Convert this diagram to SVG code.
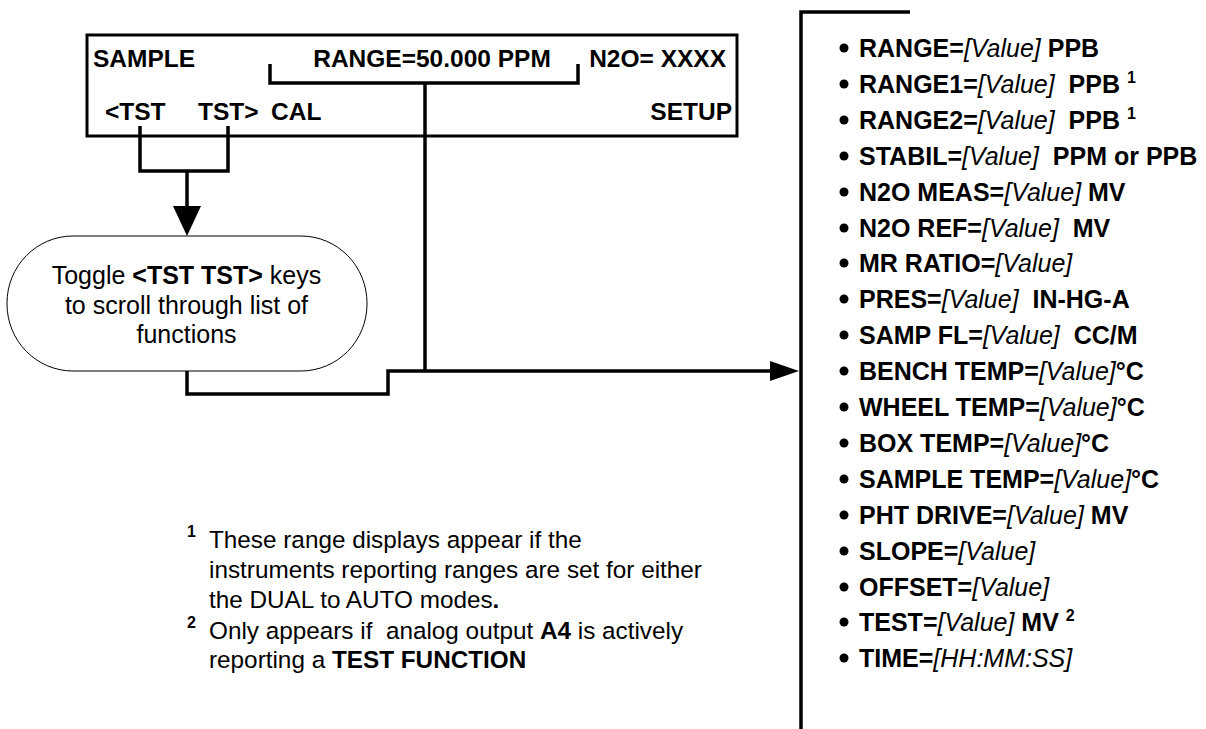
<svg xmlns="http://www.w3.org/2000/svg" width="1206" height="729" viewBox="0 0 1206 729">
<style>
text{font-family:"Liberation Sans",Arial,sans-serif;fill:#000;white-space:pre}
.k{font-size:24.5px;font-weight:bold}
.l{font-size:25px;font-weight:bold}
.i{font-style:italic;font-weight:normal}
.b{font-weight:bold}
.s{font-size:16px;font-weight:bold}
.t{font-size:25px}
.f{font-size:24.3px}
.w{fill:none;stroke:#000;stroke-width:3.5}
</style>
<defs>
<circle id="dot" r="4.5" fill="#000"/>
</defs>
<g id="display">
<rect x="87" y="35" width="650" height="101" fill="#fff" stroke="#000" stroke-width="3"/>
<text class="k" x="93" y="67">SAMPLE</text>
<text class="k" x="432" y="67" text-anchor="middle">RANGE=50.000 PPM</text>
<text class="k" x="726" y="67" text-anchor="end">N2O= XXXX</text>
<text class="k" x="105" y="120">&lt;TST</text>
<text class="k" x="198" y="120">TST&gt;</text>
<text class="k" x="271" y="120">CAL</text>
<text class="k" x="732" y="120" text-anchor="end">SETUP</text>
</g>
<g id="toggle">
<rect x="7" y="236" width="360" height="135" rx="66" ry="67" fill="#fff" stroke="#000" stroke-width="1"/>
<text class="t" x="186.5" y="284" text-anchor="middle">Toggle <tspan class="b">&lt;TST TST&gt;</tspan> keys</text>
<text class="t" x="186.5" y="314" text-anchor="middle">to scroll through list of</text>
<text class="t" x="186.5" y="343" text-anchor="middle">functions</text>
</g>
<g id="list">
<path class="w" d="M910 12H801V729" stroke-width="4"/>
<g fill="#000">
<use href="#dot" x="844" y="48"/><use href="#dot" x="844" y="84"/><use href="#dot" x="844" y="120"/><use href="#dot" x="844" y="156"/><use href="#dot" x="844" y="192"/><use href="#dot" x="844" y="228"/><use href="#dot" x="844" y="263"/><use href="#dot" x="844" y="299"/><use href="#dot" x="844" y="335"/><use href="#dot" x="844" y="371"/><use href="#dot" x="844" y="407"/><use href="#dot" x="844" y="443"/><use href="#dot" x="844" y="479"/><use href="#dot" x="844" y="515"/><use href="#dot" x="844" y="551"/><use href="#dot" x="844" y="587"/><use href="#dot" x="844" y="622"/><use href="#dot" x="844" y="658"/>
</g>
<text class="l" x="859" y="57">RANGE=<tspan class="i">[Value]</tspan> PPB</text>
<text class="l" x="859" y="93">RANGE1=<tspan class="i">[Value]</tspan>  PPB <tspan class="s" dy="-10">1</tspan></text>
<text class="l" x="859" y="129">RANGE2=<tspan class="i">[Value]</tspan>  PPB <tspan class="s" dy="-10">1</tspan></text>
<text class="l" x="859" y="165">STABIL=<tspan class="i">[Value]</tspan>  PPM or PPB</text>
<text class="l" x="859" y="201">N2O MEAS=<tspan class="i">[Value]</tspan> MV</text>
<text class="l" x="859" y="237">N2O REF=<tspan class="i">[Value]</tspan>  MV</text>
<text class="l" x="859" y="272">MR RATIO=<tspan class="i">[Value]</tspan></text>
<text class="l" x="859" y="308">PRES=<tspan class="i">[Value]</tspan>  IN-HG-A</text>
<text class="l" x="859" y="344">SAMP FL=<tspan class="i">[Value]</tspan>  CC/M</text>
<text class="l" x="859" y="380">BENCH TEMP=<tspan class="i">[Value]</tspan>°C</text>
<text class="l" x="859" y="416">WHEEL TEMP=<tspan class="i">[Value]</tspan>°C</text>
<text class="l" x="859" y="452">BOX TEMP=<tspan class="i">[Value]</tspan>°C</text>
<text class="l" x="859" y="488">SAMPLE TEMP=<tspan class="i">[Value]</tspan>°C</text>
<text class="l" x="859" y="524">PHT DRIVE=<tspan class="i">[Value]</tspan> MV</text>
<text class="l" x="859" y="560">SLOPE=<tspan class="i">[Value]</tspan></text>
<text class="l" x="859" y="596">OFFSET=<tspan class="i">[Value]</tspan></text>
<text class="l" x="859" y="631">TEST=<tspan class="i">[Value]</tspan> MV <tspan class="s" dy="-10">2</tspan></text>
<text class="l" x="859" y="667">TIME=<tspan class="i">[HH:MM:SS]</tspan></text>
</g>
<g id="notes">
<text class="s" x="187" y="537">1</text>
<text class="f" x="209" y="548">These range displays appear if the</text>
<text class="f" x="209" y="578">instruments reporting ranges are set for either</text>
<text class="f" x="209" y="608">the DUAL to AUTO modes<tspan class="b">.</tspan></text>
<text class="s" x="187" y="628">2</text>
<text class="f" x="209" y="639">Only appears if  analog output <tspan class="b">A4</tspan> is actively</text>
<text class="f" x="209" y="668">reporting a <tspan class="b">TEST FUNCTION</tspan></text>
</g>
<g id="connectors" class="w" fill="none" stroke="#000" stroke-width="3.5">
<path d="M270 64V83H578V64"/>
<path d="M425 83V371"/>
<path d="M140 126V171H228V126"/>
<path d="M187 171V208"/>
<path d="M187 371V394H388V371H772"/>
<polygon points="173,206 201,206 187,236" fill="#000" stroke="none"/>
<polygon points="770,361 770,381 799,371" fill="#000" stroke="none"/>
</g>
</svg>
